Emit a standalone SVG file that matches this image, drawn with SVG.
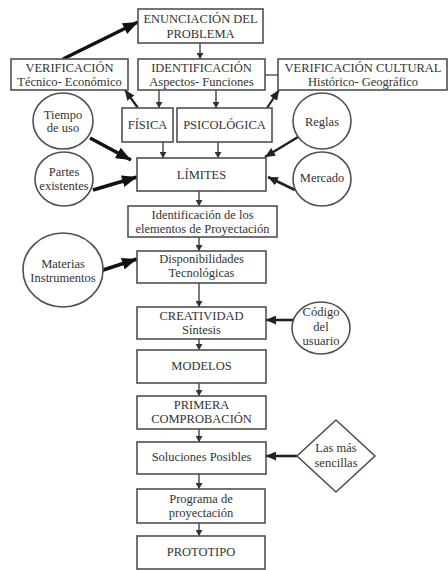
<svg xmlns="http://www.w3.org/2000/svg" width="448" height="570" viewBox="0 0 448 570" font-family="'Liberation Serif', 'Times New Roman', serif">
<style>
.box{fill:#fff;stroke:#505050;stroke-width:1.6}
.t{font-family:'Liberation Serif','Times New Roman',serif;font-size:12.5px;fill:#333;text-anchor:middle}
.thin{stroke:#333;stroke-width:1.3;fill:none;marker-end:url(#ah)}
.diag{stroke:#222;stroke-width:2.2;fill:none;marker-end:url(#ahm)}
.med{stroke:#222;stroke-width:2.6;fill:none;marker-end:url(#ahm)}
.thick{stroke:#111;stroke-width:3.5;fill:none;marker-end:url(#ahb)}
.plain{stroke:#505050;stroke-width:1.4;fill:none}
</style>
<defs>
<marker id="ah" markerUnits="userSpaceOnUse" markerWidth="7" markerHeight="7" refX="6" refY="3.5" orient="auto"><path d="M0,0 L6,3.5 L0,7 z" fill="#333"/></marker>
<marker id="ahm" markerUnits="userSpaceOnUse" markerWidth="11" markerHeight="9" refX="10" refY="4.5" orient="auto"><path d="M0,0 L10,4.5 L0,9 z" fill="#222"/></marker>
<marker id="ahb" markerUnits="userSpaceOnUse" markerWidth="16" markerHeight="12" refX="15" refY="6" orient="auto"><path d="M0,0 L15,6 L0,12 z" fill="#111"/></marker>
</defs>
<g id="connectors">
<path class="thick" d="M63,59 L138,22"/>
<path class="thin" d="M200,43 L200,59"/>
<path class="plain" d="M265,75 L278,75"/>
<path class="thin" d="M159,90 L159,108"/>
<path class="thin" d="M216,90 L216,108"/>
<path class="diag" d="M138,108 L125,90"/>
<path class="diag" d="M267,108 L279,90"/>
<path class="thin" d="M163,142 L163,158"/>
<path class="thin" d="M218,142 L218,158"/>
<path class="thick" d="M90,138 L131,160"/>
<path class="thick" d="M93,190 L137,177"/>
<path class="med" d="M298,137 L265,157"/>
<path class="med" d="M295,190 L268,177"/>
<path class="thin" d="M199,191 L199,206"/>
<path class="thin" d="M199,237 L199,251"/>
<path class="thick" d="M97,272 L137,259"/>
<path class="thin" d="M199,283 L199,307"/>
<path class="med" d="M293,320 L266,320"/>
<path class="thin" d="M199,339 L199,350"/>
<path class="thin" d="M199,383 L199,396"/>
<path class="thin" d="M199,429 L199,442"/>
<path class="med" d="M297,456 L266,456"/>
<path class="thin" d="M199,474 L199,489"/>
<path class="thin" d="M199,523 L199,536"/>
</g>
<g id="enunciacion"><rect class="box" x="138" y="9" width="125" height="34"/><text class="t" x="200.5" y="22.5">ENUNCIACIÓN DEL</text><text class="t" x="200.5" y="37.5">PROBLEMA</text></g>
<g id="verificacion"><rect class="box" x="11" y="59" width="117" height="31"/><text class="t" x="69.5" y="72">VERIFICACIÓN</text><text class="t" x="69.5" y="86">Técnico- Económico</text></g>
<g id="identificacion"><rect class="box" x="138" y="59" width="127" height="31"/><text class="t" x="201.5" y="72">IDENTIFICACIÓN</text><text class="t" x="201.5" y="86">Aspectos- Funciones</text></g>
<g id="cultural"><rect class="box" x="278" y="59" width="169" height="31"/><text class="t" x="363" y="72">VERIFICACIÓN CULTURAL</text><text class="t" x="363" y="86">Histórico- Geográfico</text></g>
<g id="fisica"><rect class="box" x="122" y="108" width="51" height="34"/><text class="t" x="147.5" y="129">FÍSICA</text></g>
<g id="psicologica"><rect class="box" x="177" y="108" width="95" height="34"/><text class="t" x="224.5" y="129">PSICOLÓGICA</text></g>
<g id="limites"><rect class="box" x="137" y="158" width="129" height="33"/><text class="t" x="201.5" y="179">LÍMITES</text></g>
<g id="elementos"><rect class="box" x="128" y="206" width="149" height="31"/><text class="t" x="202.5" y="219">Identificación de los</text><text class="t" x="202.5" y="232.5">elementos de Proyectación</text></g>
<g id="disponibilidades"><rect class="box" x="137" y="251" width="129" height="32"/><text class="t" x="201.5" y="263">Disponibilidades</text><text class="t" x="201.5" y="277">Tecnológicas</text></g>
<g id="creatividad"><rect class="box" x="137" y="307" width="129" height="32"/><text class="t" x="201.5" y="320">CREATIVIDAD</text><text class="t" x="201.5" y="334">Síntesis</text></g>
<g id="modelos"><rect class="box" x="137" y="350" width="129" height="33"/><text class="t" x="201.5" y="370">MODELOS</text></g>
<g id="primera"><rect class="box" x="137" y="396" width="129" height="33"/><text class="t" x="201.5" y="409">PRIMERA</text><text class="t" x="201.5" y="423">COMPROBACIÓN</text></g>
<g id="soluciones"><rect class="box" x="137" y="442" width="129" height="32"/><text class="t" x="201.5" y="461">Soluciones Posibles</text></g>
<g id="programa"><rect class="box" x="137" y="489" width="128" height="34"/><text class="t" x="201" y="503">Programa de</text><text class="t" x="201" y="517">proyectación</text></g>
<g id="prototipo"><rect class="box" x="137" y="536" width="128" height="33"/><text class="t" x="201" y="556">PROTOTIPO</text></g>
<g id="tiempo"><ellipse class="box" cx="63" cy="121" rx="30" ry="28"/><text class="t" x="63" y="119">Tiempo</text><text class="t" x="63" y="132">de uso</text></g>
<g id="partes"><ellipse class="box" cx="64" cy="179" rx="29" ry="27"/><text class="t" x="64" y="176">Partes</text><text class="t" x="64" y="190">existentes</text></g>
<g id="reglas"><ellipse class="box" cx="322" cy="121" rx="29" ry="28"/><text class="t" x="322" y="126">Reglas</text></g>
<g id="mercado"><ellipse class="box" cx="322" cy="179" rx="29" ry="27"/><text class="t" x="322" y="182">Mercado</text></g>
<g id="materias"><ellipse class="box" cx="63" cy="270" rx="40" ry="37"/><text class="t" x="63" y="268">Materias</text><text class="t" x="63" y="282">Instrumentos</text></g>
<g id="codigo"><ellipse class="box" cx="321" cy="328" rx="29" ry="26"/><text class="t" x="321" y="316">Código</text><text class="t" x="321" y="331">del</text><text class="t" x="321" y="345">usuario</text></g>
<g id="sencillas"><polygon class="box" points="336,420 375,456 336,492 297,456"/><text class="t" x="336" y="452">Las más</text><text class="t" x="336" y="467">sencillas</text></g>
</svg>
